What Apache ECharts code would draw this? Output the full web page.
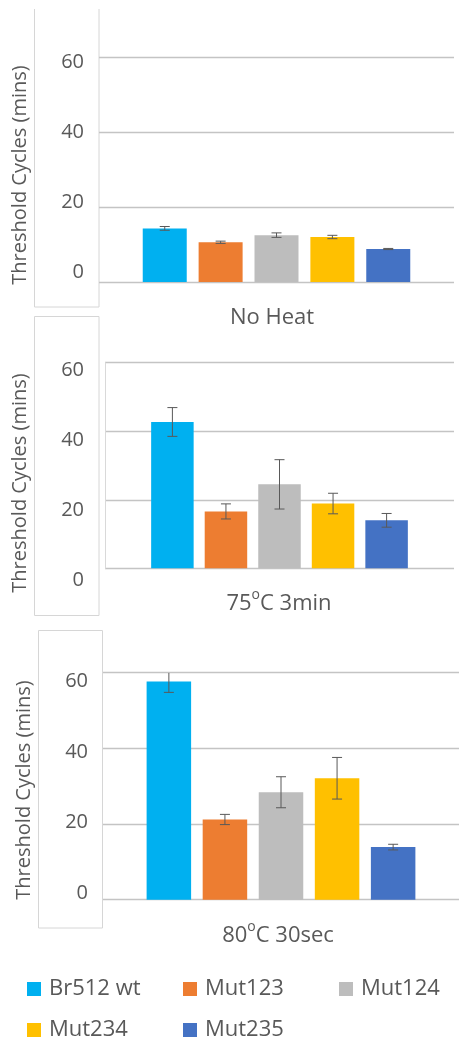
<!DOCTYPE html>
<html>
<head>
<meta charset="utf-8">
<script src="https://cdn.jsdelivr.net/npm/echarts@6/dist/echarts.min.js"></script>
<style>
html,body{margin:0;padding:0;background:#fff;}
#chart{width:459px;height:1055px;}
</style>
</head>
<body>
<div id="chart"></div>
<script>
// ---- data ----
const seriesNames = ['Br512 wt', 'Mut123', 'Mut124', 'Mut234', 'Mut235'];
const panelTitles = ['No Heat', '75{sup|o}C 3min', '80{sup|o}C 30sec'];
const noHeat     = [14.3, 10.6, 12.5, 12.0, 8.8];
const noHeatErr  = [0.5, 0.3, 0.6, 0.45, 0.15];
const heat75     = [42.7, 16.6, 24.5, 18.9, 14.0];
const heat75Err  = [4.2, 2.2, 7.2, 3.0, 2.0];
const heat80     = [57.7, 21.2, 28.4, 32.1, 13.9];
const heat80Err  = [2.9, 1.35, 4.1, 5.5, 0.75];
const yMin = 0, yMax = 60, yStep = 20;
const yTitle = 'Threshold Cycles (mins)';

// ---- styling ----
const colors = ['#00B0F0', '#ED7D31', '#BDBDBD', '#FFC000', '#4472C4'];
const textColor = '#595959';
const font = '"Open Sans", "Noto Sans", sans-serif';
const panelValues = [noHeat, heat75, heat80];
const panelErrs = [noHeatErr, heat75Err, heat80Err];

// layout per panel
const mainGrids = [
  {left: 99, right: 5, top: 57, height: 225},
  {left: 105, right: 5, top: 362.7, height: 205.6},
  {left: 103, right: 0, top: 672.7, height: 227}
];
const labelGrids = [
  {left: 92, width: 1, top: 62, height: 210},
  {left: 92, width: 1, top: 370, height: 210.7},
  {left: 96, width: 1, top: 681.7, height: 211.3}
];
const barWidths = [44, 42.5, 44.5];
const barGaps = [0.27, 0.26, 0.26];
const titlePos = [[272, 318], [279, 604], [278, 936]];
const yTitlePos = [[20, 175], [20, 483], [24, 790]];
const axisLineShow = [false, true, false];

const grid = [], xAxis = [], yAxis = [], series = [], graphic = [];

for (let p = 0; p < 3; p++) {
  grid.push(Object.assign({}, mainGrids[p]));
  xAxis.push({
    gridIndex: grid.length - 1, type: 'category', data: [''],
    axisLine: {show: false}, axisTick: {show: false}, axisLabel: {show: false}
  });
  yAxis.push({
    gridIndex: grid.length - 1, type: 'value', min: yMin, max: yMax, interval: yStep,
    axisLabel: {show: false}, axisTick: {show: false},
    axisLine: {show: axisLineShow[p], lineStyle: {color: '#D9D9D9', width: 1}},
    splitLine: {show: true, lineStyle: {color: '#C4C4C4', width: 1.3}}
  });
  const axisIdx = grid.length - 1;
  const spacing = barWidths[p] * (1 + barGaps[p]);
  for (let i = 0; i < seriesNames.length; i++) {
    series.push({
      type: 'bar', name: seriesNames[i],
      xAxisIndex: axisIdx, yAxisIndex: axisIdx,
      barWidth: barWidths[p], barGap: (barGaps[p] * 100) + '%',
      itemStyle: {color: colors[i]},
      data: [panelValues[p][i]]
    });
  }
  for (let i = 0; i < seriesNames.length; i++) {
    series.push({
      type: 'custom', name: seriesNames[i],
      xAxisIndex: axisIdx, yAxisIndex: axisIdx,
      clip: true, z: 5,
      encode: {x: 0, y: 1},
      data: [[0, panelValues[p][i], panelErrs[p][i]]],
      renderItem: function (params, api) {
        const v = api.value(1), e = api.value(2);
        const c = api.coord([api.value(0), v]);
        const x = c[0] + (i - 2) * spacing;
        const hiVal = v + e;
        const top = api.coord([api.value(0), Math.min(hiVal, yMax)])[1];
        const bot = api.coord([api.value(0), v - e])[1];
        const hw = 5;
        const st = {stroke: '#595959', lineWidth: 1};
        const children = [
          {type: 'line', shape: {x1: x, y1: top, x2: x, y2: bot}, style: st},
          {type: 'line', shape: {x1: x - hw, y1: bot, x2: x + hw, y2: bot}, style: st}
        ];
        if (hiVal <= yMax) {
          children.push({type: 'line', shape: {x1: x - hw, y1: top, x2: x + hw, y2: top}, style: st});
        }
        return {type: 'group', children: children};
      }
    });
  }
  // label grid for tick labels
  grid.push(Object.assign({}, labelGrids[p]));
  xAxis.push({gridIndex: grid.length - 1, type: 'value', show: false, min: 0, max: 1});
  yAxis.push({
    gridIndex: grid.length - 1, type: 'value', min: yMin, max: yMax, interval: yStep,
    axisLine: {show: false}, axisTick: {show: false}, splitLine: {show: false},
    axisLabel: {show: true, color: textColor, fontSize: 20, fontFamily: font, margin: 8}
  });

  // panel title
  graphic.push({
    type: 'text', x: titlePos[p][0], y: titlePos[p][1], z: 10,
    style: {
      text: panelTitles[p], fill: textColor, font: '22px ' + font,
      align: 'center', verticalAlign: 'middle',
      rich: {sup: {fontSize: 14, fontFamily: font, fill: textColor, lineHeight: 14, padding: [0, 0, 18, 0]}}
    }
  });
  // y axis title
  graphic.push({
    type: 'text', x: yTitlePos[p][0], y: yTitlePos[p][1], rotation: Math.PI / 2, z: 10,
    style: {
      text: yTitle, fill: textColor, font: '20px ' + font,
      align: 'center', verticalAlign: 'middle'
    }
  });
}

// boxes around the y-axis label areas
graphic.push({type: 'polyline', z: -1, shape: {points: [[34.5, 9], [34.5, 307], [99, 307], [99, 9]]},
  style: {stroke: '#D6D6D6', fill: null, lineWidth: 1}});
graphic.push({type: 'rect', z: -1, shape: {x: 34.5, y: 316.5, width: 64.5, height: 299},
  style: {stroke: '#D6D6D6', fill: '#fff', lineWidth: 1}});
graphic.push({type: 'rect', z: -1, shape: {x: 38.5, y: 630.5, width: 64, height: 297.5},
  style: {stroke: '#D6D6D6', fill: '#fff', lineWidth: 1}});

// legends positioned individually
const legendPos = [[27, 978], [183, 978], [339, 978], [27, 1019], [183, 1019]];
const legend = seriesNames.map((n, i) => ({
  data: [n], left: legendPos[i][0], top: legendPos[i][1], padding: 0,
  icon: 'rect', itemWidth: 14, itemHeight: 14,
  textStyle: {color: textColor, fontSize: 22, fontFamily: font, lineHeight: 22, padding: [0, 0, 0, 3]}
}));

const chart = echarts.init(document.getElementById('chart'));
chart.setOption({
  animation: false,
  backgroundColor: '#fff',
  grid: grid, xAxis: xAxis, yAxis: yAxis,
  legend: legend,
  graphic: graphic,
  series: series
});
</script>
</body>
</html>
